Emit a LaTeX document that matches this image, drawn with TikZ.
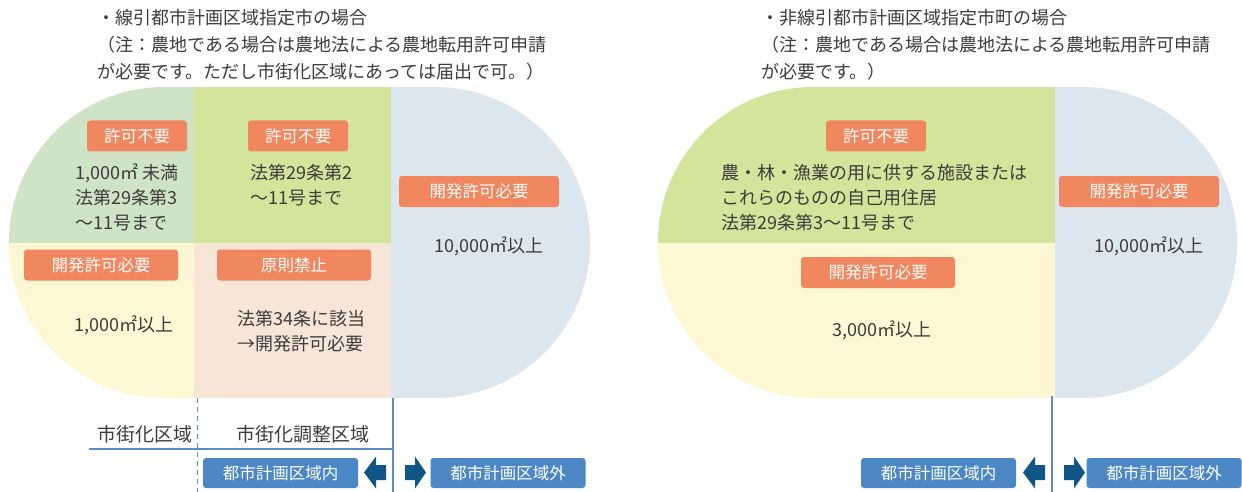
\documentclass[tikz,border=0pt]{standalone}
\usepackage{fontspec}
\setmainfont{Noto Sans CJK JP}
\usepackage{tikz}

\definecolor{zonegreen}{HTML}{CFE4C6}
\definecolor{zonelime}{HTML}{D3E49B}
\definecolor{zoneyellow}{HTML}{FDF8D3}
\definecolor{zonepeach}{HTML}{F7E5D7}
\definecolor{zoneblue}{HTML}{DCE6EE}
\definecolor{tagorange}{HTML}{F1875E}
\definecolor{tagblue}{HTML}{4C87C5}
\definecolor{flowblue}{HTML}{0F5586}
\definecolor{rule}{HTML}{5A8CC8}
\definecolor{ink}{HTML}{3C3C3C}

\begin{document}
\begin{tikzpicture}[x=1pt,y=-1pt]
\useasboundingbox (0,0) rectangle (1242,492);

% 線引
\begin{scope}
    \clip[rounded corners=155pt] (9,87) rectangle (590,398);
    \fill[zonegreen] (0,87) rectangle (194,243);
    \fill[zonelime] (194,87) rectangle (391,243);
    \fill[zoneyellow] (0,243) rectangle (194,398);
    \fill[zonepeach] (194,243) rectangle (391,398);
    \fill[zoneblue] (391,87) rectangle (600,398);
\end{scope}

% 非線引
\begin{scope}
    \clip[rounded corners=155pt] (658,87) rectangle (1237,398);
    \fill[zonelime] (650,87) rectangle (1055,243);
    \fill[zoneyellow] (650,243) rectangle (1055,398);
    \fill[zoneblue] (1055,87) rectangle (1245,398);
\end{scope}

\begin{scope}[every node/.style={anchor=north west,align=left,inner sep=0pt,text=ink,
              font=\fontsize{18}{27}\selectfont}]
    \node (headL) at (97,9) {・線引都市計画区域指定市の場合\\（注：農地である場合は農地法による農地転用許可申請\\が必要です。ただし市街化区域にあっては届出で可。）};
    \node (headR) at (761,9) {・非線引都市計画区域指定市町の場合\\（注：農地である場合は農地法による農地転用許可申請\\が必要です。）};
\end{scope}

\begin{scope}[every node/.style={fill=tagorange,text=white,rounded corners=3pt,inner sep=0pt,
              minimum height=31pt,font=\fontsize{16.5}{20}\selectfont}]
    \node[minimum width=100pt] (okA) at (137,136) {許可不要};
    \node[minimum width=100pt] (okB) at (298,136) {許可不要};
    \node[minimum width=160pt] (needA) at (479,191.5) {開発許可必要};
    \node[minimum width=154pt] (needB) at (101,265) {開発許可必要};
    \node[minimum width=154pt] (banB) at (294,265) {原則禁止};

    \node[minimum width=100pt] (okC) at (876,136) {許可不要};
    \node[minimum width=160pt] (needC) at (1139,191.5) {開発許可必要};
    \node[minimum width=154pt] (needD) at (878,272.5) {開発許可必要};
\end{scope}

\begin{scope}[every node/.style={align=left,inner sep=0pt,text=ink,
              font=\fontsize{18}{25}\selectfont}]
    \node[anchor=north west] (areaA) at (75,164) {1,000㎡ 未満\\法第29条第3\\～11号まで};
    \node[anchor=north west] (areaB) at (250,164) {法第29条第2\\～11号まで};
    \node (areaC) at (489,246) {10,000㎡以上};
    \node (areaD) at (124,325) {1,000㎡以上};
    \node[anchor=north west] (areaE) at (237,310) {法第34条に該当\\→開発許可必要};

    \node[anchor=north west] (areaF) at (721,164) {農・林・漁業の用に供する施設または\\これらのものの自己用住居\\法第29条第3～11号まで};
    \node (areaG) at (1149,246) {10,000㎡以上};
    \node (areaH) at (882,330) {3,000㎡以上};

    \node[anchor=east,font=\fontsize{19}{25}\selectfont] (shigai) at (193,434) {市街化区域};
    \node[anchor=west,font=\fontsize{19}{25}\selectfont] (chosei) at (236,434) {市街化調整区域};
\end{scope}

% 区域の境
\coordinate (dashtop) at (197.5,398);
\coordinate (dashend) at (197.5,492);
\coordinate (cutA) at (393,398);
\coordinate (cutAend) at (393,492);
\coordinate (ruleL) at (89,449);
\coordinate (ruleR) at (393,449);
\coordinate (cutB) at (1052,396);
\coordinate (cutBend) at (1052,492);

\begin{scope}[every path/.style={draw=rule,line width=1.3pt}]
    \path[dash pattern=on 5pt off 4pt] (dashtop) -- (dashend);
    \path (cutA) -- (cutAend);
    \path (ruleL) -- (ruleR);
    \path (cutB) -- (cutBend);
\end{scope}

\begin{scope}[every node/.style={fill=tagblue,text=white,rounded corners=3pt,inner sep=0pt,
              minimum height=30pt,minimum width=155pt,font=\fontsize{16.5}{20}\selectfont}]
    \node (inA) at (280.5,473) {都市計画区域内};
    \node (outA) at (508,473) {都市計画区域外};
    \node (inB) at (938.5,473) {都市計画区域内};
    \node (outB) at (1164,473) {都市計画区域外};
\end{scope}

% 矢印
\foreach \a/\b in {364/426, 1023/1085} {
    \fill[flowblue] (\a,472.5) -- ++(12,-16) -- ++(0,8.5) -- ++(10,0) -- ++(0,15)
        -- ++(-10,0) -- ++(0,8.5) -- cycle;
    \fill[flowblue] (\b,472.5) -- ++(-11,-16) -- ++(0,8.5) -- ++(-10,0) -- ++(0,15)
        -- ++(10,0) -- ++(0,8.5) -- cycle;
}
\end{tikzpicture}
\end{document}
